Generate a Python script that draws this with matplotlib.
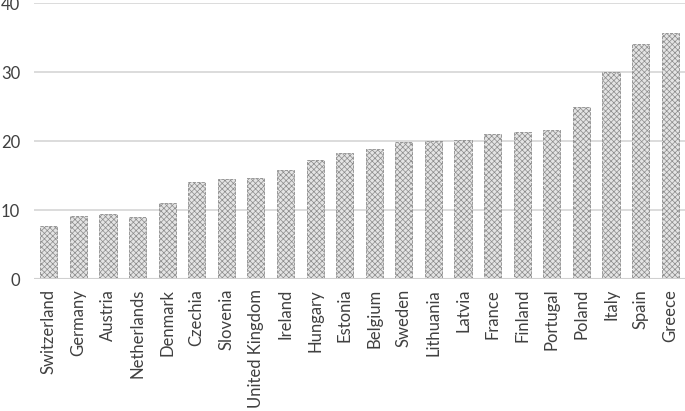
import matplotlib.pyplot as plt
import matplotlib as mpl

countries = ['Switzerland', 'Germany', 'Austria', 'Netherlands', 'Denmark', 'Czechia',
             'Slovenia', 'United Kingdom', 'Ireland', 'Hungary', 'Estonia', 'Belgium',
             'Sweden', 'Lithuania', 'Latvia', 'France', 'Finland', 'Portugal', 'Poland',
             'Italy', 'Spain', 'Greece']
values = [7.7, 9.1, 9.4, 9.0, 11.0, 14.1, 14.5, 14.6, 15.8, 17.2, 18.3, 18.9,
          19.8, 20.0, 20.1, 21.0, 21.3, 21.6, 24.9, 30.0, 34.1, 35.7]
yticks = [0, 10, 20, 30, 40]

plt.rcParams['font.family'] = ['Lato', 'DejaVu Sans']
mpl.rcParams['hatch.color'] = '#a8a8a8'
mpl.rcParams['hatch.linewidth'] = 0.5

fig = plt.figure(figsize=(6.85, 4.11), dpi=100)
ax = fig.add_axes([0.0496, 0.321, 0.9504, 0.6717])

x = range(len(countries))
ax.bar(x, values, width=0.58, color='#e4e4e4', edgecolor='#8c8c8c',
       linewidth=0.6, linestyle='--', hatch='xxxxxx', zorder=3)

ax.set_xlim(-0.5, len(countries) - 0.5)
ax.set_ylim(0, 40)
ax.set_yticks(yticks)
ax.set_xticks(list(x))
ax.set_xticklabels(countries, rotation=90, fontsize=12, color='#404040')
ax.tick_params(axis='y', labelsize=12, labelcolor='#404040', length=0, pad=10)
ax.tick_params(axis='x', length=0, pad=7)

ax.yaxis.grid(True, color='#d9d9d9', linewidth=1.3, zorder=0)
for s in ax.spines.values():
    s.set_visible(False)
ax.axhline(0, color='#d0d0d0', linewidth=1.5, zorder=4)

fig.savefig('out.png', dpi=100)
